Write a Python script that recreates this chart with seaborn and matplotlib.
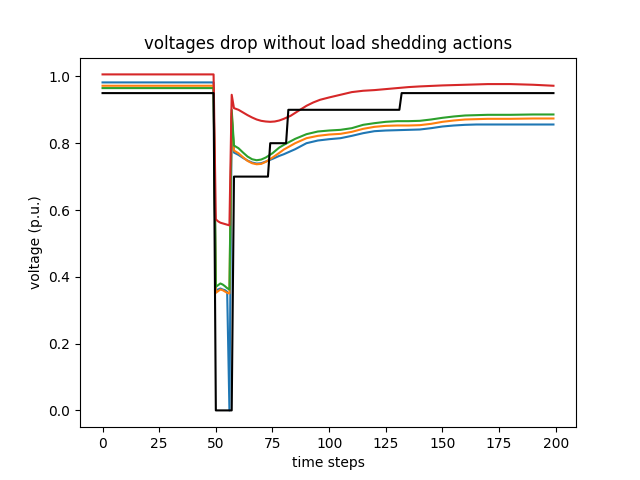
import pandas as pd
import matplotlib
matplotlib.use('Agg')
import matplotlib.pyplot as plt
import seaborn as sns

# bus voltages (time step, p.u.)
bus1_steps = [0, 49, 50, 51, 52, 53, 54, 55, 56, 57, 58, 60, 62, 64, 66, 68, 70, 72, 75, 78, 80,
              85, 90, 95, 100, 105, 110, 115, 120, 125, 130, 135, 140, 145, 150, 155, 160, 165,
              170, 180, 190, 199]
bus1_volt = [0.982, 0.982, 0.36, 0.362, 0.365, 0.362, 0.36, 0.355, 0.0, 0.88, 0.772, 0.765, 0.756,
             0.748, 0.742, 0.739, 0.74, 0.745, 0.753, 0.762, 0.767, 0.782, 0.800, 0.808, 0.812,
             0.815, 0.822, 0.830, 0.836, 0.838, 0.839, 0.840, 0.841, 0.845, 0.850, 0.853, 0.855,
             0.856, 0.856, 0.856, 0.856, 0.856]

bus2_steps = [0, 49, 50, 51, 52, 53, 54, 55, 56, 57, 58, 60, 62, 64, 66, 68, 70, 72, 75, 78, 80,
              85, 90, 95, 100, 105, 110, 115, 120, 125, 130, 135, 140, 145, 150, 155, 160, 165,
              170, 180, 190, 199]
bus2_volt = [0.972, 0.972, 0.352, 0.357, 0.362, 0.36, 0.356, 0.352, 0.35, 0.89, 0.778, 0.77, 0.758,
             0.747, 0.74, 0.737, 0.738, 0.744, 0.757, 0.771, 0.781, 0.800, 0.815, 0.822, 0.826,
             0.828, 0.834, 0.843, 0.849, 0.852, 0.853, 0.853, 0.854, 0.858, 0.864, 0.868, 0.871,
             0.872, 0.873, 0.873, 0.874, 0.874]

bus3_steps = [0, 49, 50, 51, 52, 53, 54, 55, 56, 57, 58, 60, 62, 64, 66, 68, 70, 72, 75, 78, 80,
              85, 90, 95, 100, 105, 110, 115, 120, 125, 130, 135, 140, 145, 150, 155, 160, 165,
              170, 180, 190, 199]
bus3_volt = [0.965, 0.965, 0.37, 0.375, 0.38, 0.377, 0.372, 0.366, 0.362, 0.9, 0.793, 0.785, 0.772,
             0.76, 0.752, 0.749, 0.751, 0.757, 0.77, 0.787, 0.795, 0.813, 0.827, 0.835, 0.838,
             0.84, 0.845, 0.855, 0.86, 0.864, 0.866, 0.866, 0.867, 0.871, 0.876, 0.88, 0.883,
             0.884, 0.885, 0.885, 0.886, 0.886]

bus4_steps = [0, 49, 50, 51, 52, 53, 54, 55, 56, 57, 58, 60, 62, 64, 66, 68, 70, 72, 74, 76, 78,
              80, 83, 86, 90, 93, 96, 100, 105, 110, 115, 120, 125, 130, 135, 140, 150, 160, 170,
              175, 180, 190, 199]
bus4_volt = [1.006, 1.006, 0.572, 0.566, 0.562, 0.56, 0.558, 0.556, 0.554, 0.945, 0.905, 0.9, 0.892,
             0.884, 0.877, 0.871, 0.867, 0.865, 0.864, 0.865, 0.868, 0.873, 0.882, 0.895, 0.912,
             0.922, 0.930, 0.937, 0.945, 0.953, 0.957, 0.959, 0.962, 0.965, 0.968, 0.970, 0.973,
             0.975, 0.977, 0.977, 0.977, 0.975, 0.972]

# voltage threshold (black step line)
limit_steps = [0, 49, 50, 57, 58, 73, 74, 81, 82, 131, 132, 199]
limit_volt = [0.95, 0.95, 0.0, 0.0, 0.7, 0.7, 0.8, 0.8, 0.9, 0.9, 0.95, 0.95]

series = [('bus1', bus1_steps, bus1_volt), ('bus2', bus2_steps, bus2_volt),
          ('bus3', bus3_steps, bus3_volt), ('bus4', bus4_steps, bus4_volt),
          ('limit', limit_steps, limit_volt)]
df = pd.concat([pd.DataFrame({'step': s, 'voltage': v, 'bus': name}) for name, s, v in series],
               ignore_index=True)

colors = ['#1f77b4', '#ff7f0e', '#2ca02c', '#d62728', 'black']

fig, ax = plt.subplots(figsize=(6.4, 4.8), dpi=100)
sns.lineplot(data=df, x='step', y='voltage', hue='bus', palette=colors, estimator=None,
             sort=False, legend=False, linewidth=1.5, ax=ax)
ax.set_title('voltages drop without load shedding actions')
ax.set_xlabel('time steps')
ax.set_ylabel('voltage (p.u.)')
fig.savefig('out.png', dpi=100)
